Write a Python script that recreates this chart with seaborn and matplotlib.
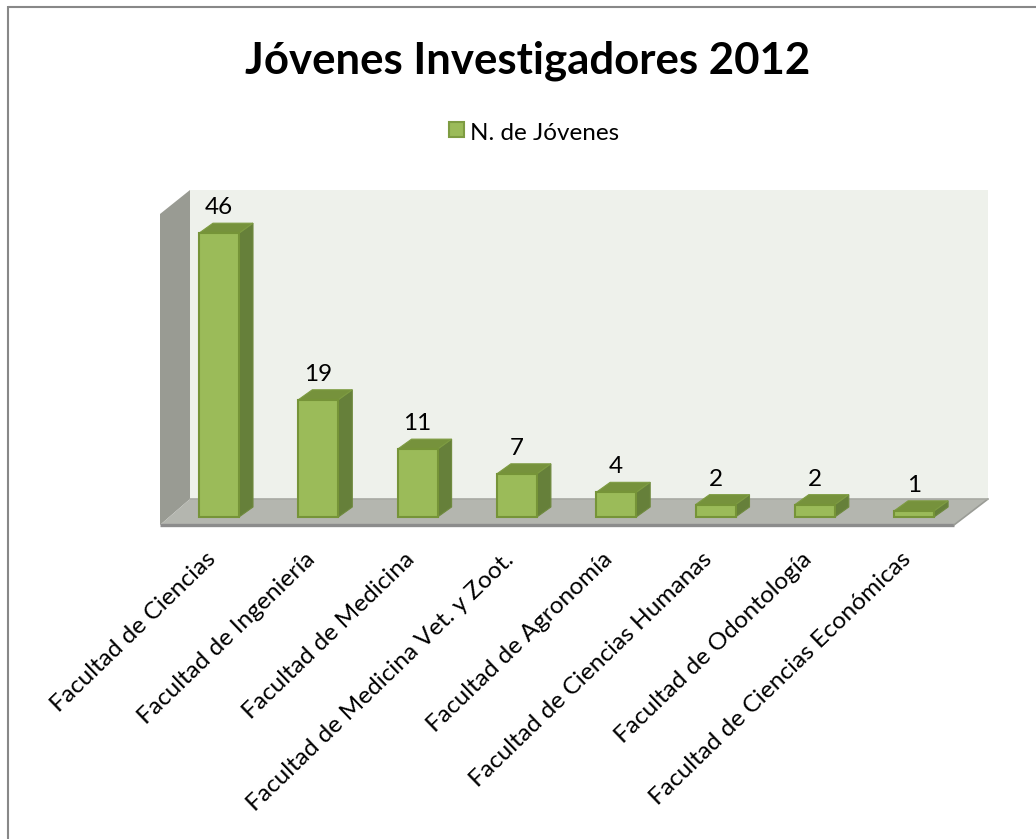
import matplotlib
matplotlib.use('Agg')
import matplotlib.pyplot as plt
from matplotlib.lines import Line2D
from matplotlib.patches import Polygon, Rectangle
from matplotlib.transforms import ScaledTranslation
import pandas as pd
import seaborn as sns

facultades = ['Facultad de Ciencias', 'Facultad de Ingeniería', 'Facultad de Medicina',
              'Facultad de Medicina Vet. y Zoot.', 'Facultad de Agronomía',
              'Facultad de Ciencias Humanas', 'Facultad de Odontología',
              'Facultad de Ciencias Económicas']
jovenes = [46, 19, 11, 7, 4, 2, 2, 1]

W, H = 1036, 839
sns.set_theme(style='white')
plt.rcParams['font.family'] = ['Lato', 'DejaVu Sans']

fig = plt.figure(figsize=(W / 100, H / 100), dpi=100)
# plot box in pixels, y from the top
left, right, top, floor = 160, 954, 214, 525
ax = fig.add_axes([left / W, 1 - floor / H, (right - left) / W, (floor - top) / H])

px_x = 99.3
px_y = 6.17

df = pd.DataFrame({'facultad': facultades, 'n': jovenes})
sns.barplot(data=df, x='facultad', y='n', ax=ax, color='#9BBB59', saturation=1,
            width=40 / px_x, edgecolor='#769438', linewidth=1.5, zorder=4, legend=False)
ax.set_xlim((left - 219) / px_x, (right - 219) / px_x)
ax.set_ylim(-8 / px_y, (517 - top) / px_y)


# fake 3d: walls and floor
def box(pts, color, z=1):
    # pts in pixels relative to the plot box
    w, h = right - left, floor - top
    ax.add_patch(Polygon([(x / w, y / h) for x, y in pts], closed=True, transform=ax.transAxes,
                         facecolor=color, edgecolor='none', clip_on=False, zorder=z))


w_px, h_px = right - left, floor - top
dx_wall, dy_wall = 30, 26
box([(dx_wall, dy_wall), (dx_wall + 798, dy_wall), (dx_wall + 798, h_px + 24), (dx_wall, h_px + 24)], '#EEF1EB', 1)
box([(0, 0), (dx_wall, dy_wall), (dx_wall, h_px + 24), (0, h_px)], '#999B93', 2)
box([(0, 0), (w_px, 0), (w_px + 34, dy_wall), (dx_wall, dy_wall)], '#B4B6AF', 2)
ax.plot([0, 1], [0, 0], transform=ax.transAxes, color='#8C8C8C', lw=2.4, clip_on=False,
        solid_capstyle='butt', zorder=3)
ax.plot([1, (w_px + 34) / w_px], [0, dy_wall / h_px], transform=ax.transAxes, color='#9A9C96',
        lw=1.2, clip_on=False, zorder=3)
ax.plot([dx_wall / w_px, (dx_wall + 798) / w_px], [dy_wall / h_px] * 2, transform=ax.transAxes,
        color='#A8AAA3', lw=1.2, clip_on=False, zorder=3)

# bar depth
dx = 14 / px_x
dy = 10 / px_y
for bar, v in zip(ax.patches[:len(jovenes)], jovenes):
    x0 = bar.get_x()
    x1 = x0 + bar.get_width()
    ax.add_patch(Polygon([(x1, 0), (x1 + dx, dy), (x1 + dx, v + dy), (x1, v)], closed=True,
                         facecolor='#66803A', edgecolor='#6F8A3E', lw=0.8, zorder=3, clip_on=False))
    ax.add_patch(Polygon([(x0, v), (x0 + dx, v + dy), (x1 + dx, v + dy), (x1, v)], closed=True,
                         facecolor='#76923C', edgecolor='#7E9C42', lw=0.8, zorder=3, clip_on=False))
    ax.annotate(str(v), (x0 + (x1 - x0) / 2, v + dy), xytext=(0, 3.5), textcoords='offset points',
                ha='center', va='bottom', fontsize=17.5, color='black', zorder=6, annotation_clip=False)

sns.despine(ax=ax, left=True, bottom=True)
ax.set_xlabel('')
ax.set_ylabel('')
ax.set_yticks([])
ax.set_xticks(range(len(facultades)))
ax.set_xticklabels(facultades, rotation=44, ha='right', rotation_mode='anchor', fontsize=17.6, color='black')
ax.tick_params(axis='x', length=0, pad=17)
# labels end a little left of the bar centre
shift = ScaledTranslation(-14 / 100, 0, fig.dpi_scale_trans)
for lab in ax.get_xticklabels():
    lab.set_transform(lab.get_transform() + shift)
ax.patch.set_alpha(0)

fig.text(528 / W, 1 - 61 / H, 'Jóvenes Investigadores 2012', ha='center', va='center',
         fontsize=31.5, fontweight='bold', color='black')
# legend
fig.patches.append(Rectangle((449 / W, 1 - 137 / H), 15 / W, 15 / H, transform=fig.transFigure,
                             facecolor='#9BBB59', edgecolor='#7E9C42', lw=1.5))
fig.text(470 / W, 1 - 134 / H, 'N. de Jóvenes', ha='left', va='center', fontsize=17.5, color='black')
# chart frame: top and left only reach the picture
fig.add_artist(Line2D([7.5 / W, 1], [1 - 7 / H, 1 - 7 / H], transform=fig.transFigure,
                      color='#888888', lw=1.5, solid_capstyle='butt'))
fig.add_artist(Line2D([8 / W, 8 / W], [0, 1 - 6 / H], transform=fig.transFigure,
                      color='#888888', lw=1.5, solid_capstyle='butt'))

fig.savefig('out.png', dpi=100, facecolor='white')
